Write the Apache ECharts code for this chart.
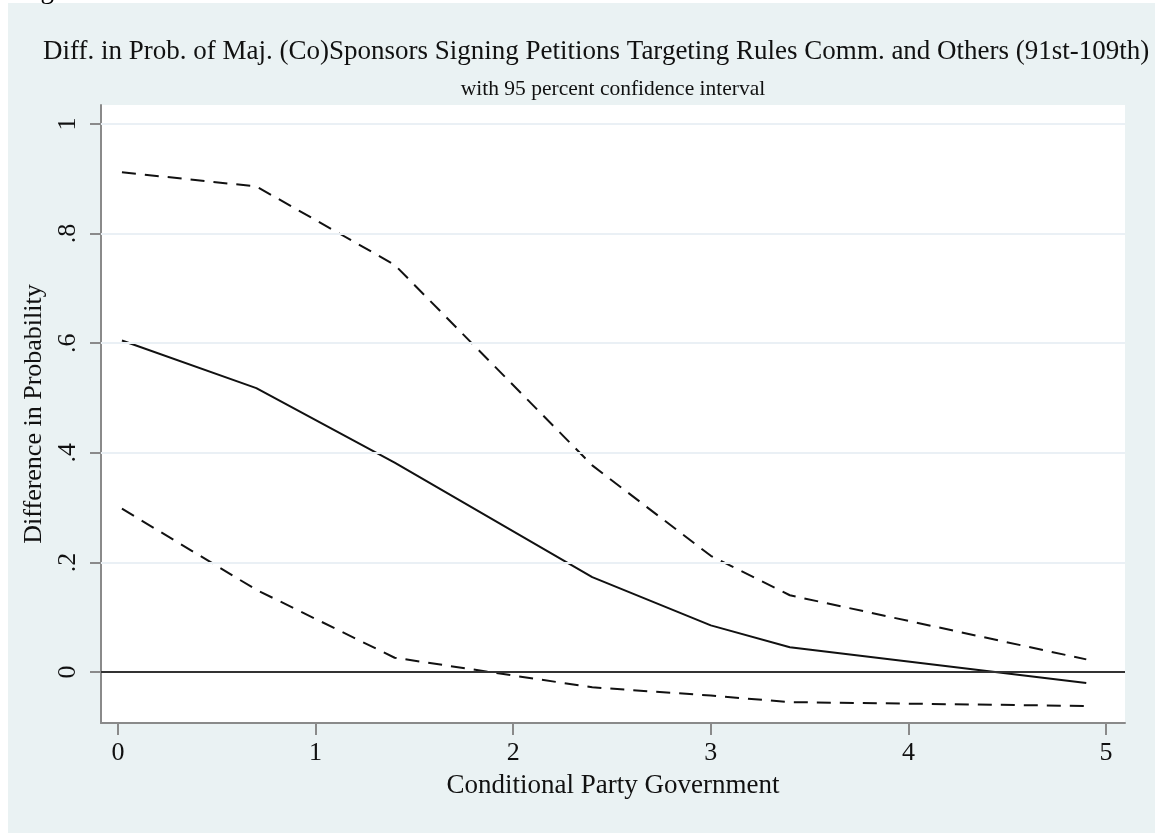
<!DOCTYPE html>
<html>
<head>
<meta charset="utf-8">
<script src="https://cdn.jsdelivr.net/npm/echarts@6/dist/echarts.min.js"></script>
<style>
html,body{margin:0;padding:0;background:#fff;}
#main{width:1155px;height:834px;}
</style>
</head>
<body>
<div id="main"></div>
<script>
// ---- data ----
const xVals = [0.02, 0.70, 1.40, 2.40, 3.00, 3.40, 4.90];
const diffVals = [0.605, 0.518, 0.382, 0.173, 0.085, 0.045, -0.020];
const upperVals = [0.912, 0.886, 0.743, 0.377, 0.212, 0.140, 0.023];
const lowerVals = [0.298, 0.150, 0.026, -0.028, -0.043, -0.055, -0.062];
const xTicks = [0, 1, 2, 3, 4, 5];
const yTicks = [0, 0.2, 0.4, 0.6, 0.8, 1];
const yTickLabels = ['0', '.2', '.4', '.6', '.8', '1'];
const titleText = 'Diff. in Prob. of Maj. (Co)Sponsors Signing Petitions Targeting Rules Comm. and Others (91st-109th)';
const subtitleText = 'with 95 percent confidence interval';
const xTitle = 'Conditional Party Government';
const yTitle = 'Difference in Probability';

const FONT = '"Liberation Serif", "DejaVu Serif", serif';
const pair = (xs, ys) => xs.map((x, i) => [x, ys[i]]);

const chart = echarts.init(document.getElementById('main'), null, {renderer: 'canvas'});
const dashStyle = {color: '#111', width: 2, type: [14, 9]};

chart.setOption({
  animation: false,
  backgroundColor: '#ffffff',
  graphic: [
    {type: 'rect', z: -10, shape: {x: 8, y: 3, width: 1147, height: 830}, style: {fill: '#EAF2F3'}},
    {type: 'text', z: 5, style: {text: 'Figure', x: 18, y: 4, font: '27px ' + FONT, fill: '#000', textVerticalAlign: 'bottom'}},
    {type: 'text', z: 5, style: {text: titleText, x: 43, y: 52, font: '27px ' + FONT, fill: '#111', textAlign: 'left', textVerticalAlign: 'middle'}},
    {type: 'text', z: 5, style: {text: subtitleText, x: 613, y: 89, font: '21.5px ' + FONT, fill: '#111', textAlign: 'center', textVerticalAlign: 'middle'}}
  ],
  grid: {left: 101, right: 30, top: 105, bottom: 111, show: true, backgroundColor: '#ffffff', borderWidth: 0},
  xAxis: {
    type: 'value', min: -0.086, max: 5.096,
    name: xTitle, nameLocation: 'middle', nameGap: 49,
    nameTextStyle: {fontFamily: FONT, fontSize: 27, color: '#111'},
    axisLine: {show: true, onZero: false, lineStyle: {color: '#8a8a8a', width: 2}},
    axisTick: {show: true, length: 12, lineStyle: {color: '#8a8a8a', width: 2}, customValues: xTicks},
    axisLabel: {fontFamily: FONT, fontSize: 26, color: '#111', margin: 17, customValues: xTicks,
      formatter: v => String(v)},
    splitLine: {show: false}
  },
  yAxis: {
    type: 'value', min: -0.0931, max: 1.0347,
    name: yTitle, nameLocation: 'middle', nameGap: 46, nameRotate: 90,
    nameTextStyle: {fontFamily: FONT, fontSize: 26, color: '#111'},
    axisLine: {show: true, onZero: false, lineStyle: {color: '#8a8a8a', width: 2}},
    axisTick: {show: true, length: 11, lineStyle: {color: '#8a8a8a', width: 2}, customValues: yTicks},
    axisLabel: {fontFamily: FONT, fontSize: 26, color: '#111', margin: 20, rotate: 90, customValues: yTicks,
      formatter: v => { const i = yTicks.findIndex(t => Math.abs(t - v) < 1e-6); return i >= 0 ? yTickLabels[i] : ''; }},
    splitLine: {show: false}
  },
  series: [
    {
      name: 'grid', type: 'line', data: [], silent: true,
      markLine: {
        silent: true, symbol: 'none', label: {show: false}, animation: false,
        data: yTicks.filter(t => t !== 0).map(t => ({yAxis: t, lineStyle: {color: '#EAF0F5', width: 2, type: 'solid'}}))
          .concat([{yAxis: 0, lineStyle: {color: '#333', width: 2, type: 'solid'}}])
      }
    },
    {name: 'Difference', type: 'line', data: pair(xVals, diffVals), showSymbol: false, symbol: 'none',
      lineStyle: {color: '#111', width: 2}, z: 3},
    {name: 'Upper', type: 'line', data: pair(xVals, upperVals), showSymbol: false, symbol: 'none',
      lineStyle: dashStyle, z: 3},
    {name: 'Lower', type: 'line', data: pair(xVals, lowerVals), showSymbol: false, symbol: 'none',
      lineStyle: dashStyle, z: 3}
  ]
});
</script>
</body>
</html>
